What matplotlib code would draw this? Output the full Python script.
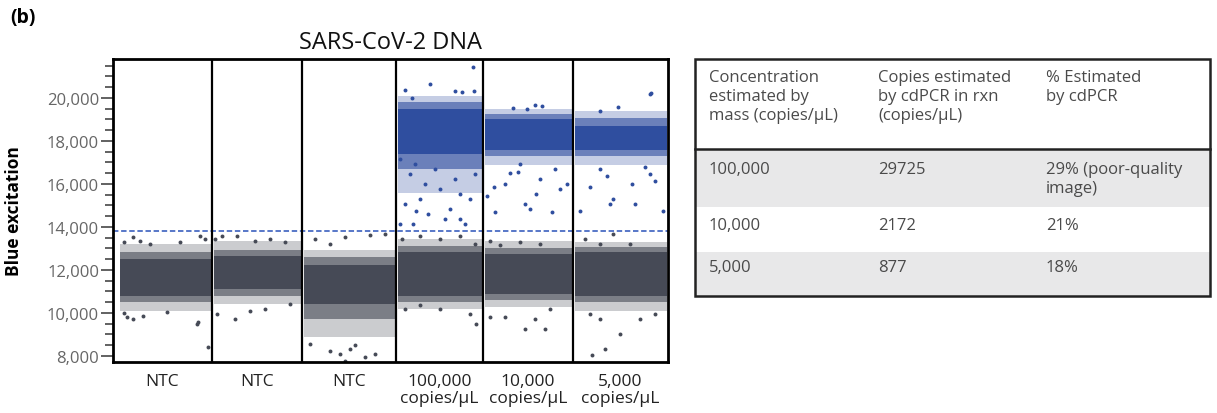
import matplotlib.pyplot as plt
import matplotlib.patches as mpatches
import numpy as np
from matplotlib.ticker import FuncFormatter, MultipleLocator

plt.rcParams['font.family'] = ['Open Sans', 'DejaVu Sans']

# ---- scatter data ----
well_labels = ["NTC", "NTC", "NTC",
               "100,000\ncopies/µL", "10,000\ncopies/µL", "5,000\ncopies/µL"]
well_edges = [0, 99, 189, 283, 370, 460, 555]
threshold = 13800

# negative (grey) droplet cluster per well: dense core, inner and outer fringe
neg_core_low = [10800, 11100, 10400, 10800, 10900, 10800]
neg_core_high = [12500, 12650, 12250, 12850, 12750, 12850]
neg_inner_low = [10500, 10800, 9700, 10500, 10600, 10500]
neg_inner_high = [12850, 12950, 12600, 13100, 13000, 13050]
neg_fringe_low = [10100, 10400, 8900, 10200, 10300, 10100]
neg_fringe_high = [13200, 13350, 12950, 13450, 13350, 13300]

# positive (blue) droplet cluster per well
pos_core_low = [np.nan, np.nan, np.nan, 17400, 17600, 17600]
pos_core_high = [np.nan, np.nan, np.nan, 19500, 19000, 18700]
pos_inner_low = [np.nan, np.nan, np.nan, 16700, 17300, 17300]
pos_inner_high = [np.nan, np.nan, np.nan, 19800, 19250, 19050]
pos_fringe_low = [np.nan, np.nan, np.nan, 15600, 16900, 16900]
pos_fringe_high = [np.nan, np.nan, np.nan, 20100, 19500, 19400]

neg_out_x = [11, 14, 20, 30, 54, 84, 85, 95, 11, 20, 27, 37, 87, 92, 67,
             102, 109, 124, 142, 157, 172, 122, 104, 137, 152, 177,
             202, 217, 232, 257, 272, 197, 217, 227, 242, 232, 252, 262, 237,
             289, 307, 327, 347, 362, 292, 307, 327, 363, 357,
             377, 387, 407, 427, 377, 392, 412, 422, 432, 437,
             472, 487, 500, 517, 477, 487, 507, 527, 542, 479, 492]
neg_out_y = [10000, 9800, 9700, 9850, 10050, 9500, 9580, 8420, 13300, 13540,
             13350, 13200, 13580, 13440, 13300,
             13440, 13580, 13580, 13350, 13440, 13300, 9720, 9950, 10100,
             10190, 10420,
             13440, 13200, 13540, 13630, 13680, 8560, 8240, 8100, 8510, 7770,
             7960, 8100, 8330,
             13440, 13580, 13440, 13580, 13200, 10190, 10380, 10190, 9490, 9960,
             13350, 13160, 13300, 13200, 9820, 9820, 9260, 9720, 9260, 10190,
             13440, 13200, 13650, 13200, 9960, 9720, 9030, 9720, 9950, 8050,
             8330]

pos_out_x = [360, 317, 292, 299, 349, 342, 361, 287, 297, 312, 327, 347, 292,
             307, 337, 357, 303, 315, 332, 352, 287, 300, 347, 362, 342, 322,
             302,
             374, 381, 382, 392, 397, 405, 407, 412, 417, 439, 427, 442, 429,
             422, 414, 400, 423, 447, 454,
             467, 477, 487, 497, 500, 494, 519, 522, 537, 542, 550, 537, 537,
             538, 505, 487, 532]
pos_out_y = [21440, 20650, 20370, 20000, 20280, 20330, 20330, 17160, 16470,
             16000, 15770, 15540, 15070, 15300, 14840, 15300, 14740, 14600,
             14370, 14140, 14140, 14140, 14370, 16470, 16230, 16700, 16930,
             15440, 15860, 14700, 16000, 16510, 16560, 16930, 15070, 14840,
             14700, 16230, 16700, 19630, 19680, 19490, 19540, 15540, 15770,
             16000,
             14750, 15860, 16700, 15070, 15300, 16370, 16000, 15070, 16470,
             16140, 14750, 17770, 20190, 20230, 19580, 19400, 16790]

# ---- table data ----
table_header = ["Concentration\nestimated by\nmass (copies/µL)",
                "Copies estimated\nby cdPCR in rxn\n(copies/µL)",
                "% Estimated\nby cdPCR"]
col_mass = ["100,000", "10,000", "5,000"]
col_cdpcr = ["29725", "2172", "877"]
col_pct = ["29% (poor-quality\nimage)", "21%", "18%"]

grey = "#464a56"
blue = "#2f4e9f"

fig = plt.figure(figsize=(12.17, 4.14), dpi=100)
ax = fig.add_axes([113 / 1217, 1 - 363 / 414, 555 / 1217, 303 / 414])

lefts = np.array(well_edges[:-1], dtype=float) + 2
lefts[0] = well_edges[0] + 7
widths = np.array(well_edges[1:], dtype=float) - 1 - lefts


def band(low, high, **kw):
    low, high = np.array(low), np.array(high)
    ax.bar(lefts, high - low, bottom=low, width=widths, align='edge',
           linewidth=0, **kw)


def cluster(lo_f, hi_f, lo_i, hi_i, lo_c, hi_c, color):
    # density falls off from the solid core to the sparse fringe
    band(lo_f, hi_f, color=color, alpha=0.28, zorder=2)
    band(lo_i, hi_i, color=color, alpha=0.6, zorder=2.5)
    band(lo_c, hi_c, color=color, zorder=3)


cluster(neg_fringe_low, neg_fringe_high, neg_inner_low, neg_inner_high,
        neg_core_low, neg_core_high, grey)
cluster(pos_fringe_low, pos_fringe_high, pos_inner_low, pos_inner_high,
        pos_core_low, pos_core_high, blue)
ax.scatter(neg_out_x, neg_out_y, s=8, color=grey, linewidths=0, zorder=4)
ax.scatter(pos_out_x, pos_out_y, s=8, color=blue, linewidths=0, zorder=4)

ax.axhline(threshold, color="#4a6cc4", linestyle=(0, (3, 1.5)),
           linewidth=1.3, zorder=5)
for xe in well_edges[1:-1]:
    ax.axvline(xe, color='black', linewidth=1.6, zorder=6)

ax.set_xlim(well_edges[0], well_edges[-1])
ax.set_ylim(7720, 21810)
for sp in ax.spines.values():
    sp.set_linewidth(2)
    sp.set_zorder(7)

centers = [(a + b) / 2 for a, b in zip(well_edges[:-1], well_edges[1:])]
ax.set_xticks(centers)
ax.set_xticklabels(well_labels, fontsize=12.5, color='#222222',
                   linespacing=1.05)
ax.tick_params(axis='x', length=0, pad=8)

ax.yaxis.set_major_locator(MultipleLocator(2000))
ax.yaxis.set_minor_locator(MultipleLocator(500))
ax.yaxis.set_major_formatter(FuncFormatter(lambda v, p: f"{int(v):,}"))
ax.tick_params(axis='y', which='major', length=9, width=1.3,
               color='#555555', labelsize=12, labelcolor='#666666', pad=1)
ax.tick_params(axis='y', which='minor', length=6, width=1.3, color='#555555')
ax.set_ylabel("Blue excitation", fontsize=12.5, fontweight='bold')
ax.yaxis.set_label_coords(-0.163, 0.5)

ax.set_title("SARS-CoV-2 DNA", fontsize=17, pad=8, color='#111111')
fig.text(10 / 1217, 1 - 18 / 414, "(b)", fontsize=14, fontweight='bold',
         va='center', ha='left')

# ---- table, drawn in figure pixel coordinates ----
tx = fig.add_axes([0, 0, 1, 1], zorder=-1)
tx.set_xlim(0, 1217)
tx.set_ylim(414, 0)
tx.axis('off')

row_tops = [150, 208, 253]
row_bottoms = [208, 253, 297]
row_colors = ["#e8e8e9", "white", "#e8e8e9"]
for top, bot, c in zip(row_tops, row_bottoms, row_colors):
    tx.add_patch(mpatches.Rectangle((695, top), 515, bot - top,
                                    facecolor=c, edgecolor='none'))
tx.add_patch(mpatches.Rectangle((695, 60), 515, 237, facecolor='none',
                                edgecolor='#222222', linewidth=1.8))
tx.plot([695, 1210], [150, 150], color='#222222', linewidth=1.8)

col_x = [709, 878, 1046]
text_color = '#4a4a4a'
for xc, h in zip(col_x, table_header):
    tx.text(xc, 70, h, fontsize=12, color=text_color, va='top', ha='left',
            linespacing=1.25)

row_text_top = [162, 218, 260]
for i, yt in enumerate(row_text_top):
    for xc, col in zip(col_x, [col_mass, col_cdpcr, col_pct]):
        tx.text(xc, yt, col[i], fontsize=12, color=text_color, va='top',
                ha='left', linespacing=1.25)

fig.savefig("out.png", dpi=100)
